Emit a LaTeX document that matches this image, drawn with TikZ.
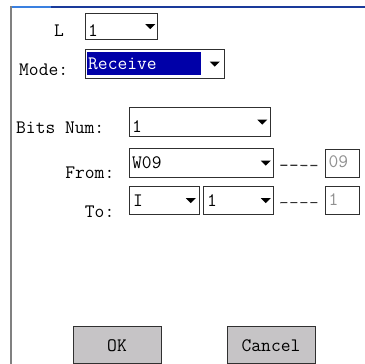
\documentclass[tikz,border=0pt]{standalone}
\usepackage{fontspec}
\newcommand{\uifont}{\fontsize{19}{19}\selectfont\ttfamily}
\definecolor{selblue}{HTML}{0000A8}
\definecolor{btngray}{HTML}{C6C4C6}
\definecolor{topblue}{HTML}{3A80E0}
\definecolor{topnavy}{HTML}{1A3A9A}
\definecolor{boxgray}{HTML}{303030}
\definecolor{dimtext}{HTML}{909090}
\tikzset{
  combo/.style={draw=boxgray, line width=1.3pt, fill=white, inner sep=0pt, anchor=north west},
  valbox/.style={draw=boxgray, line width=1.2pt, fill=white, inner sep=0pt, anchor=north west},
  button/.style={draw=boxgray, line width=1.2pt, fill=btngray, inner sep=0pt, anchor=north west},
  txt/.style={font=\uifont, inner sep=0pt, text=black},
  dimtxt/.style={font=\uifont, inner sep=0pt, text=dimtext},
  seltxt/.style={font=\uifont, inner sep=0pt, text=white},
  dashline/.style={draw=boxgray, line width=1.2pt, dash pattern=on 7pt off 3pt},
  droparrow/.style={fill=black}
}
\begin{document}
\begin{tikzpicture}[x=1pt,y=-1pt]
\useasboundingbox (0,0) rectangle (365,364);
% window frame
\draw[topblue, line width=2pt] (11,7) -- (51,7);
\draw[topnavy, line width=2pt] (51,7) -- (365,7);
\draw[gray, line width=2.4pt] (11.2,6) -- (11.2,364);

% row L
\node[txt, anchor=base] (lLabel) at (59,37) {L};
\node[combo, minimum width=72pt, minimum height=26pt] (lCombo) at (85,13) {};
\node[txt, anchor=base west] (lVal) at (88,37) {1};
\fill[droparrow] ([xshift=-8pt]lCombo.east) ++(-5,-2.5) -- ++(10,0) -- ++(-5,5) -- cycle;

% row Mode
\node[txt, anchor=base west] (modeLabel) at (19,75) {Mode:};
\node[combo, minimum width=139pt, minimum height=29pt] (modeCombo) at (84.5,49) {};
\fill[selblue] (87,51.5) rectangle (200.5,75);
\node[seltxt, anchor=base west] (modeVal) at (88,70) {Receive};
\fill[droparrow] ([xshift=-10pt]modeCombo.east) ++(-5,-2.5) -- ++(10,0) -- ++(-5,5) -- cycle;

% row Bits Num
\node[txt, anchor=base west] (bitsLabel) at (16,133) {Bits Num:};
\node[combo, minimum width=141pt, minimum height=29pt] (bitsCombo) at (129,107) {};
\node[txt, anchor=base west] (bitsVal) at (132,132) {1};
\fill[droparrow] ([xshift=-9pt]bitsCombo.east) ++(-5,-2.5) -- ++(10,0) -- ++(-5,5) -- cycle;

% row From
\node[txt, anchor=base east] (fromLabel) at (114.5,178) {From:};
\node[combo, minimum width=144pt, minimum height=29pt] (fromCombo) at (129,148) {};
\node[txt, anchor=base west] (fromVal) at (132,168) {W09};
\fill[droparrow] ([xshift=-8.5pt]fromCombo.east) ++(-5,-2.5) -- ++(10,0) -- ++(-5,5) -- cycle;
\node[valbox, minimum width=34pt, minimum height=28pt] (fromBox) at (325,149) {};
\node[dimtxt, anchor=base west] (fromBoxVal) at (328.5,167) {09};
\draw[dashline] ([xshift=6pt,yshift=-2pt]fromCombo.east) -- ([xshift=-6pt,yshift=-2pt]fromBox.west);

% row To
\node[txt, anchor=base east] (toLabel) at (114.5,217) {To:};
\node[combo, minimum width=70pt, minimum height=28pt] (toCombo1) at (129,186) {};
\node[txt, anchor=base west] (toVal1) at (133,206) {I};
\fill[droparrow] ([xshift=-9.5pt]toCombo1.east) ++(-5,-2.5) -- ++(10,0) -- ++(-5,5) -- cycle;
\node[combo, minimum width=70pt, minimum height=28pt] (toCombo2) at (203,186) {};
\node[txt, anchor=base west] (toVal2) at (207,206) {1};
\fill[droparrow] ([xshift=-8.5pt]toCombo2.east) ++(-5,-2.5) -- ++(10,0) -- ++(-5,5) -- cycle;
\node[valbox, minimum width=34pt, minimum height=28pt] (toBox) at (325,186) {};
\node[dimtxt, anchor=base west] (toBoxVal) at (328.5,205) {1};
\draw[dashline] ([xshift=6pt,yshift=-2pt]toCombo2.east) -- ([xshift=-6pt,yshift=-2pt]toBox.west);

% buttons
\node[button, minimum width=88pt, minimum height=37pt] (okBtn) at (73,326) {};
\node[txt, anchor=base] (okText) at (117,351) {OK};
\node[button, minimum width=88pt, minimum height=37pt] (cancelBtn) at (227,326) {};
\node[txt, anchor=base] (cancelText) at (271,351) {Cancel};
\end{tikzpicture}
\end{document}
